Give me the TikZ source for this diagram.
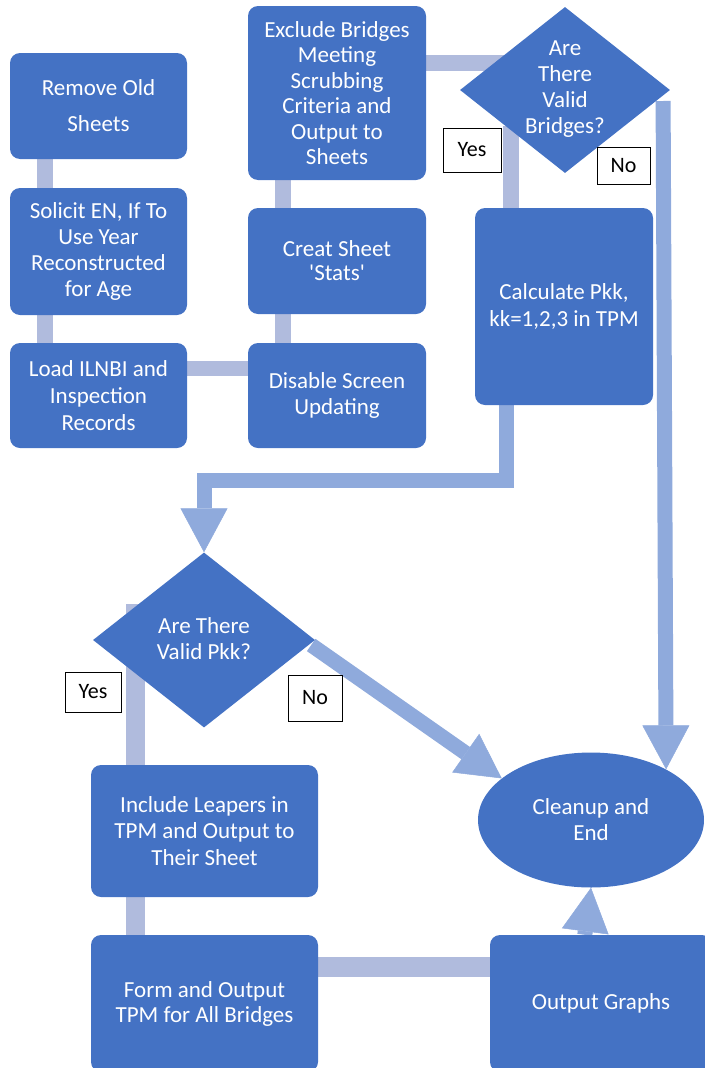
\documentclass[tikz,border=0pt]{standalone}
\usepackage{fontspec}
\setmainfont{Carlito}
\usetikzlibrary{shapes.geometric,arrows.meta,backgrounds,calc}
\definecolor{boxblue}{HTML}{4472C4}
\definecolor{linec}{HTML}{B0BBDD}
\definecolor{arrc}{HTML}{8FAADC}
\begin{document}
\begin{tikzpicture}[x=1pt,y=-1pt,
  box/.style={rectangle,rounded corners=10pt,fill=boxblue,text=white,align=center,font=\fontsize{23}{26}\selectfont,inner sep=0pt},
  dia/.style={diamond,fill=boxblue,inner sep=0pt},
  txt/.style={text=white,align=center,font=\fontsize{23}{26}\selectfont},
  lbl/.style={draw=black,line width=0.8pt,fill=white,font=\fontsize{22}{26}\selectfont,inner sep=0pt},
  conn/.style={draw=linec,line width=16pt},
  arr/.style={draw=arrc,line width=15pt,line join=miter,-{Triangle[width=47pt,length=44pt,line width=0.5pt]}}]
\useasboundingbox (0,0) rectangle (704,1068);
% boxes
\node[box,minimum width=177pt,minimum height=106pt,font=\fontsize{23}{36}\selectfont] (rm) at (98.5,106) {Remove Old\\Sheets};
\node[box,minimum width=177pt,minimum height=127pt] (sol) at (98.5,251.5) {Solicit EN, If To\\Use Year\\Reconstructed\\for Age};
\node[box,minimum width=177pt,minimum height=105pt,font=\fontsize{23}{27}\selectfont] (load) at (98.5,395.5) {Load ILNBI and\\Inspection\\Records};
\node[box,minimum width=178pt,minimum height=174pt,font=\fontsize{23}{25.5}\selectfont] (excl) at (337,93) {Exclude Bridges\\Meeting\\Scrubbing\\Criteria and\\Output to\\Sheets};
\node[box,minimum width=178pt,minimum height=106pt,font=\fontsize{23}{24}\selectfont] (creat) at (337,261) {Creat Sheet\\\textquotesingle Stats\textquotesingle};
\node[box,minimum width=178pt,minimum height=105pt] (dis) at (337,395.5) {Disable Screen\\Updating};
\node[box,minimum width=178pt,minimum height=197pt,font=\fontsize{23}{27}\selectfont] (calc) at (564,306.5) {Calculate Pkk,\\kk=1,2,3 in TPM};
\node[dia,minimum width=210pt,minimum height=166pt] (d1) at (565,90) {};
\node[txt] (d1t) at (565,89) {Are\\There\\Valid\\Bridges?};
\node[dia,minimum width=222pt,minimum height=175pt] (d2) at (204,640) {};
\node[txt] (d2t) at (204,639) {Are There\\Valid Pkk?};
\node[ellipse,fill=boxblue,text=white,align=center,minimum width=226pt,minimum height=135pt,inner sep=0pt,font=\fontsize{23}{26}\selectfont] (cln) at (591,820) {Cleanup and\\End};
\node[box,minimum width=227pt,minimum height=132pt,font=\fontsize{23}{26.5}\selectfont] (inc) at (204.5,831) {Include Leapers in\\TPM and Output to\\Their Sheet};
\node[box,minimum width=227pt,minimum height=137pt,font=\fontsize{23}{25}\selectfont] (form) at (204.5,1003.5) {Form and Output\\TPM for All Bridges};
\node[box,minimum width=222pt,minimum height=137pt] (out) at (601,1003.5) {Output Graphs};
% labels
\node[lbl,minimum width=58pt,minimum height=44pt] (y1) at (472,150) {Yes};
\node[lbl,minimum width=53pt,minimum height=37pt] (n1) at (623.5,165.5) {No};
\node[lbl,minimum width=56pt,minimum height=40pt] (y2) at (93,692) {Yes};
\node[lbl,minimum width=54pt,minimum height=46pt] (n2) at (315,698) {No};
% connectors
\begin{scope}[on background layer]
\draw[conn] ([xshift=35pt]rm.south west) -- ([xshift=35pt]sol.north west);
\draw[conn] ([xshift=35pt]sol.south west) -- ([xshift=35pt]load.north west);
\draw[conn,line width=15pt] ([yshift=27.5pt]load.east) -- ([yshift=27.5pt]dis.west);
\draw[conn] ([xshift=35pt]dis.north west) -- ([xshift=35pt]creat.south west);
\draw[conn] ([xshift=35pt]creat.north west) -- ([xshift=35pt]excl.south west);
\draw[conn] ([yshift=30pt]excl.east) -- ++(100,0);
\draw[conn] ([xshift=36pt]calc.north west) -- ++(0,-82);
\draw[conn,line width=19pt] ([xshift=45pt]inc.north west) -- ++(0,-161);
\draw[conn,line width=19pt] ([xshift=45pt]inc.south west) -- ([xshift=45pt]form.north west);
\draw[conn,line width=20pt] ([yshift=36.5pt]form.east) -- ([yshift=36.5pt]out.west);
\draw[arr] ($(d1.east -| cln.34.6)+(-3,11)$) -- (cln.34.6);
\draw[arr] ([xshift=32pt]calc.south west) -- ++(0,75) -| (d2.north);
\draw[arr] ($(d2.east)+(-4,5)$) -- (cln.155);
\draw[arr] ([xshift=95pt]out.north west) -- (cln.south);
\end{scope}
\end{tikzpicture}
\end{document}
